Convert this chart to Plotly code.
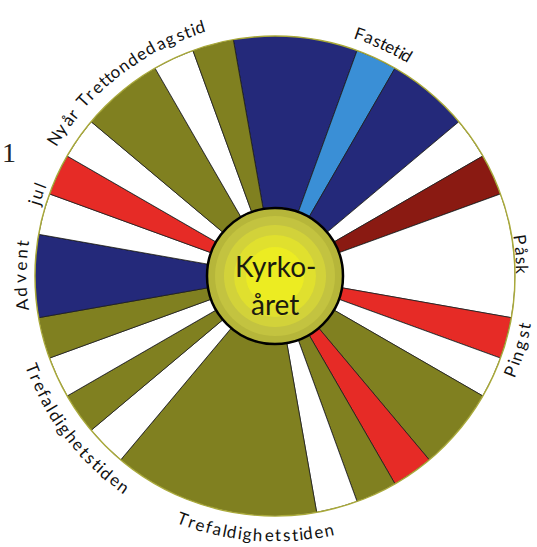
import math
import plotly.graph_objects as go

# ---------------- data ----------------
# wheel segments, angles in degrees clockwise from top
seg_start = [350, 20, 30, 50, 60, 70, 100, 110, 120, 140, 150, 160,
             170, 220, 230, 240, 250, 260, 280, 290, 300, 310, 330, 340]
seg_span = [30, 10, 20, 10, 10, 30, 10, 10, 20, 10, 10, 10,
            50, 10, 10, 10, 10, 20, 10, 10, 10, 20, 10, 10]
seg_kind = ["navy", "fast", "navy", "white", "maroon", "white", "red", "white",
            "olive", "red", "olive", "white", "olive", "white", "olive", "white",
            "olive", "navy", "white", "red", "white", "olive", "white", "olive"]

kind_color = {"navy": "#24297a", "fast": "#3a8fd6", "white": "#ffffff",
              "maroon": "#8a1a12", "red": "#e62b26", "olive": "#808020"}

# curved labels: text, centre angle, angular span, direction, radius
label_text = ["Fastetid", "Påsk", "Pingst", "Trefaldighetstiden",
              "Trefaldighetstiden", "Advent", "jul", "Nyår Trettondedagstid"]
label_angle = [25, 85, 107, 184.5, 232.5, 270, 289, 322.5]
label_span = [14, 9.5, 13, 35.5, 36, 16.5, 5.5, 44]
label_dir = ["cw", "cw", "ccw", "ccw", "ccw", "cw", "cw", "cw"]
label_radius = [257, 248, 254, 259, 259, 255, 252, 260]

hub_lines = ["Kyrko-", "året"]

# ---------------- layout geometry ----------------
W, H = 537, 547
CX, CY = 275, 276
R_OUT = 240
R_HUB = 68

theta = [(s + w / 2) % 360 for s, w in zip(seg_start, seg_span)]
colors = [kind_color[k] for k in seg_kind]

fig = go.Figure()
fig.add_trace(go.Barpolar(
    r=[1] * len(theta), theta=theta, width=seg_span,
    marker=dict(color=colors, line=dict(color="#1c1c1c", width=0.8)),
    hoverinfo="skip", showlegend=False,
))

fig.update_layout(
    width=W, height=H, margin=dict(l=0, r=0, t=0, b=0),
    paper_bgcolor="white", plot_bgcolor="white", showlegend=False,
    polar=dict(
        domain=dict(x=[(CX - R_OUT) / W, (CX + R_OUT) / W],
                    y=[(H - CY - R_OUT) / H, (H - CY + R_OUT) / H]),
        hole=R_HUB / R_OUT,
        bgcolor="white",
        bargap=0,
        radialaxis=dict(visible=False, range=[0, 1]),
        angularaxis=dict(rotation=90, direction="clockwise", showgrid=False,
                         showticklabels=False, ticks="", showline=True,
                         linecolor="#a9a93a", linewidth=1.5),
    ),
)

# hub (concentric rings for a soft gradient)
hub_r = [68, 60, 51, 41, 29]
hub_c = ["#b6b63a", "#c3c340", "#d2d23a", "#e0e02e", "#ecec22"]
for i, (rr, cc) in enumerate(zip(hub_r, hub_c)):
    fig.add_shape(type="circle", xref="paper", yref="paper",
                  x0=(CX - rr) / W, x1=(CX + rr) / W,
                  y0=(H - CY - rr) / H, y1=(H - CY + rr) / H,
                  fillcolor=cc,
                  line=dict(color="black", width=2.5 if i == 0 else 0))

fig.add_annotation(x=CX / W, y=1 - 266 / H, xref="paper", yref="paper",
                   text=hub_lines[0], showarrow=False,
                   font=dict(family="Lato", size=28, color="#1a1a10"))
fig.add_annotation(x=CX / W, y=1 - 304 / H, xref="paper", yref="paper",
                   text=hub_lines[1], showarrow=False,
                   font=dict(family="Lato", size=28, color="#1a1a10"))


def cw_width(ch):
    if ch in "ijl!.":
        return 0.26
    if ch in "ft":
        return 0.34
    if ch == "r":
        return 0.37
    if ch == " ":
        return 0.3
    if ch in "mw":
        return 0.82
    if ch.isupper():
        return 0.64
    return 0.54


for txt, ang, span, d, rt in zip(label_text, label_angle, label_span,
                                 label_dir, label_radius):
    widths = [cw_width(c) for c in txt]
    total = sum(widths)
    cum = 0
    for c, w in zip(txt, widths):
        frac = (cum + w / 2) / total
        cum += w
        if c == " ":
            continue
        if d == "cw":
            phi = ang - span / 2 + frac * span
            rot = phi
        else:
            phi = ang + span / 2 - frac * span
            rot = phi - 180
        rot = ((rot + 180) % 360) - 180
        rad = math.radians(phi)
        px = CX + rt * math.sin(rad)
        py = CY - rt * math.cos(rad)
        fig.add_annotation(x=px / W, y=1 - py / H, xref="paper", yref="paper",
                           text=c, showarrow=False, textangle=rot,
                           xanchor="center", yanchor="middle",
                           font=dict(family="Lato", size=17, color="#111111"))

# stray page number at left edge
fig.add_annotation(x=0, y=1 - 152 / H, xref="paper", yref="paper",
                   text="1", showarrow=False, xanchor="left", yanchor="middle",
                   font=dict(family="Liberation Serif", size=28, color="#222222"))

fig.write_html("out.html", config={"displayModeBar": False},
               post_script="document.body.style.margin='0px';"
                           "document.body.style.overflow='hidden';")
